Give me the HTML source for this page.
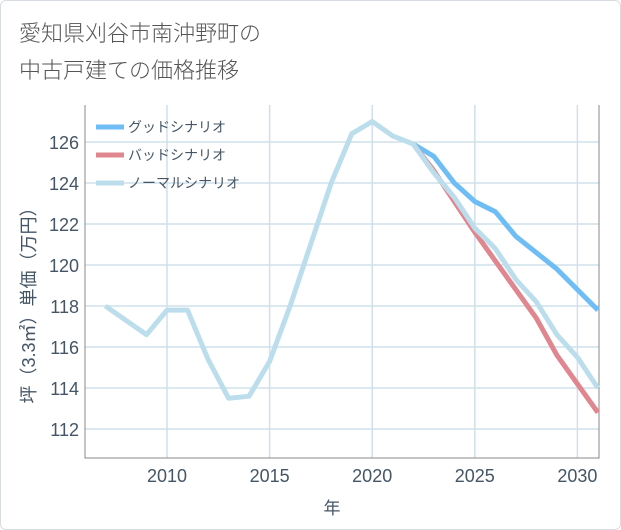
<!DOCTYPE html>
<html><head><meta charset="utf-8"><style>
body{margin:0;background:#fff;font-family:"Liberation Sans","Noto Sans CJK JP",sans-serif;}
#wrap{position:relative;width:619px;height:528px;border:1px solid #d8dde3;border-radius:6px;overflow:hidden;}
#title{position:absolute;left:18px;top:14px;font-size:22px;line-height:37px;color:#555;font-weight:300;}
svg{position:absolute;left:0;top:0}
</style></head><body>
<div id="wrap">
<div id="title">愛知県刈谷市南沖野町の<br>中古戸建ての価格推移</div>
<svg id="chart" width="621" height="530"></svg>
</div>
<script>
const years=[2007,2008,2009,2010,2011,2012,2013,2014,2015,2016,2017,2018,2019,2020,2021,2022,2023,2024,2025,2026,2027,2028,2029,2030,2031];
const normal=[118,117.3,116.6,117.8,117.8,115.4,113.5,113.6,115.3,118,121,124,126.4,127,126.3,125.9,124.5,123.3,121.8,120.8,119.3,118.2,116.6,115.5,114.0];
const goodYears=[2022,2023,2024,2025,2026,2027,2028,2029,2030,2031];
const good=[125.9,125.3,124.0,123.1,122.6,121.4,120.6,119.8,118.8,117.8];
const bad=[125.9,124.6,123.1,121.6,120.2,118.8,117.4,115.6,114.2,112.8];
const xTicks=[2010,2015,2020,2025,2030];
const yTicks=[112,114,116,118,120,122,124,126];
const L=84,R=598,T=104,B=457;
const X=v=>166+(v-2010)*20.52;
const Y=v=>141+(126-v)*20.5;
const svg=document.getElementById('chart');const NS='http://www.w3.org/2000/svg';
function mk(t,a,p){const e=document.createElementNS(NS,t);for(const k in a)e.setAttribute(k,a[k]);(p||svg).appendChild(e);return e;}
yTicks.forEach(v=>{const l=mk('line',{x1:L,x2:R,y1:Y(v),y2:Y(v),stroke:'#cfe0ec','stroke-width':1.5});
const t=mk('text',{x:L-6,y:Y(v)+7,'text-anchor':'end','font-size':18,fill:'#445566'});t.textContent=v;});
xTicks.forEach(v=>{const l=mk('line',{x1:X(v),x2:X(v),y1:T,y2:B,stroke:'#cfe0ec','stroke-width':1.5});
const t=mk('text',{x:X(v),y:481,'text-anchor':'middle','font-size':18,fill:'#445566'});t.textContent=v;});
const ax=mk('path',{d:`M${L},${T} V${B} H${R} V${T}`,fill:'none',stroke:'#888','stroke-width':1});
const xt=mk('text',{x:331,y:513,'text-anchor':'middle','font-size':17,fill:'#445566'});xt.textContent='年';
const yt=mk('text',{x:0,y:0,'text-anchor':'middle','font-size':18,fill:'#445566',transform:'translate(34,300) rotate(-90)'});yt.textContent='坪（3.3㎡）単価（万円）';
function line(xs,vs,c,name){const d=vs.map((v,i)=>(i?'L':'M')+X(xs[i]).toFixed(1)+','+Y(v).toFixed(1)).join(' ');const p=mk('path',{d,fill:'none',stroke:c,'stroke-width':5,'stroke-linejoin':'round'});}
line(goodYears,good,'#6ebef5','good-scenario-line');
line(goodYears,bad,'#e0868e','bad-scenario-line');
line(years,normal,'#bcdeec','normal-scenario-line');
const leg=[['グッドシナリオ','#6ebef5'],['バッドシナリオ','#e0868e'],['ノーマルシナリオ','#bcdeec']];
leg.forEach((e,i)=>{const y=126+i*28;const g=mk('g',{});
mk('line',{x1:95,x2:123,y1:y,y2:y,stroke:e[1],'stroke-width':5},g);
const t=mk('text',{x:127,y:y+5,'font-size':14,fill:'#445566'},g);t.textContent=e[0];});
</script>
</body></html>
